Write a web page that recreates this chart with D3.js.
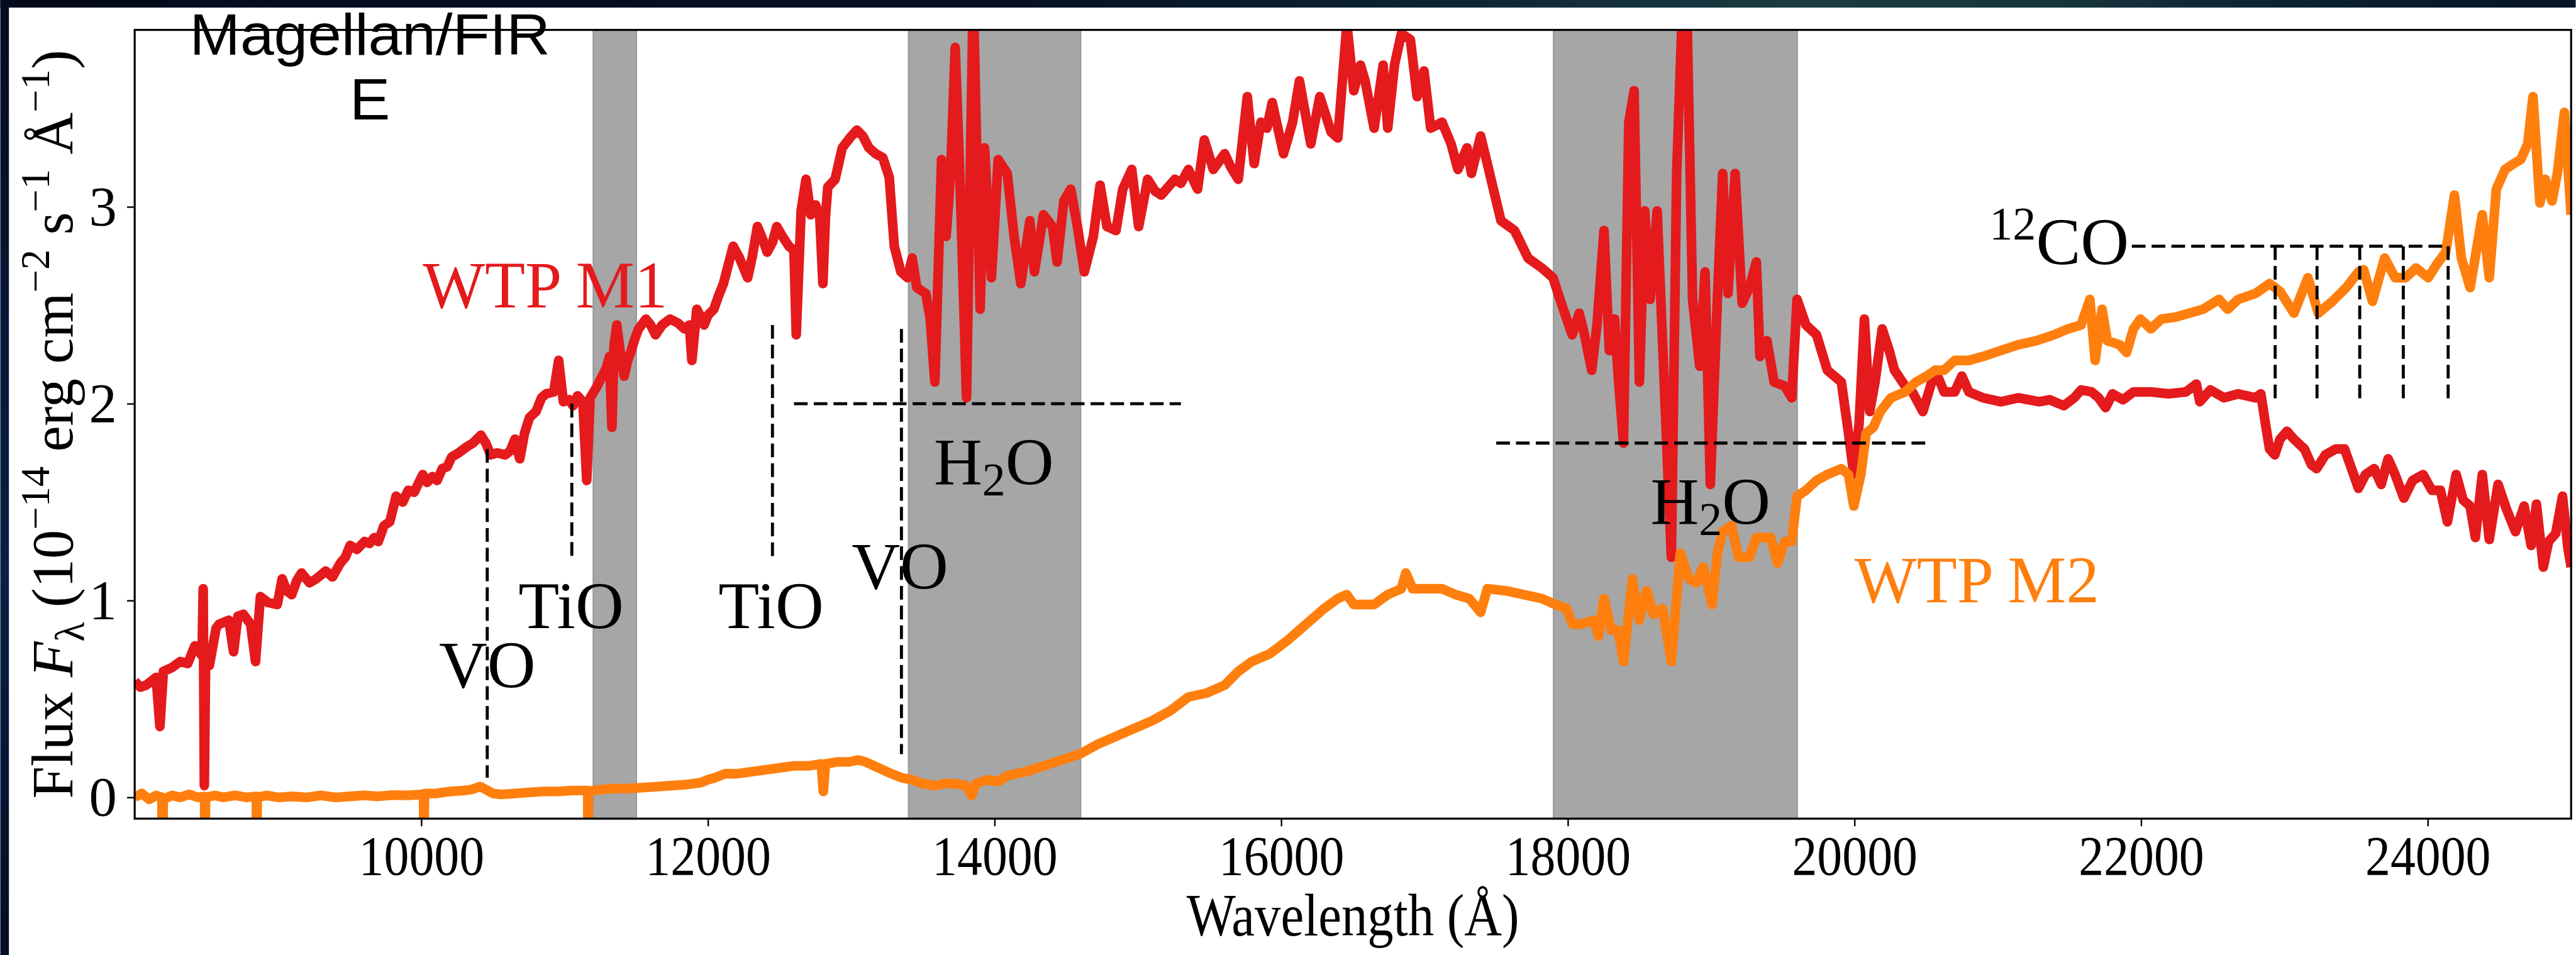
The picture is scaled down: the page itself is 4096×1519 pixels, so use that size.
<!DOCTYPE html>
<html><head><meta charset="utf-8">
<script src="https://cdn.jsdelivr.net/npm/d3@7"></script>
<style>html,body{margin:0;padding:0;background:#fff;overflow:hidden}</style>
</head><body>
<svg id="chart" width="4096" height="1519" viewBox="0 0 5079 1884"></svg>
<script>
// ---------------- data ----------------
const xTicks = [10000,12000,14000,16000,18000,20000,22000,24000];
const yTicks = [0,1,2,3];
const xDomain = [8000, 25000];
const yDomain = [-0.108, 3.899];
const bands = [[11200,11500],[13400,14600],[17900,19600]];

// WTP M1 (red) : [wavelength (Å), flux]
const m1 = [
[8000,0.59],[8040,0.56],[8080,0.57],[8150,0.61],[8176,0.36],[8200,0.64],[8260,0.66],[8318,0.69],[8370,0.68],[8420,0.77],
[8470,0.72],[8478,1.06],[8486,0.06],[8495,0.70],[8521,0.67],[8568,0.86],[8589,0.88],[8657,0.90],[8690,0.74],[8720,0.92],
[8758,0.93],[8809,0.88],[8843,0.69],[8877,1.02],[8930,0.99],[8995,0.98],[9029,1.11],[9060,1.05],[9096,1.03],[9130,1.10],
[9164,1.14],[9220,1.09],[9266,1.11],[9300,1.13],[9333,1.15],[9380,1.12],[9435,1.19],[9470,1.22],[9503,1.28],[9550,1.26],
[9604,1.30],[9640,1.29],[9672,1.32],[9700,1.30],[9739,1.38],[9780,1.40],[9824,1.53],[9870,1.50],[9909,1.56],[9950,1.55],
[10010,1.64],[10040,1.60],[10078,1.63],[10110,1.61],[10146,1.67],[10180,1.68],[10213,1.73],[10260,1.75],[10315,1.78],[10360,1.80],
[10416,1.84],[10450,1.80],[10484,1.74],[10530,1.75],[10585,1.74],[10620,1.76],[10653,1.82],[10687,1.72],[10720,1.85],[10755,1.93],
[10800,1.96],[10839,2.03],[10870,2.05],[10924,2.06],[10958,2.22],[10991,2.01],[11030,2.02],[11059,1.99],[11090,2.04],[11127,2.01],
[11154,1.61],[11178,2.03],[11220,2.08],[11262,2.14],[11290,2.18],[11313,2.24],[11330,1.88],[11345,2.30],[11364,2.40],[11390,2.25],
[11415,2.14],[11440,2.22],[11465,2.27],[11490,2.33],[11516,2.38],[11567,2.43],[11600,2.40],[11634,2.35],[11680,2.40],[11736,2.43],
[11790,2.41],[11837,2.38],[11870,2.40],[11888,2.22],[11922,2.48],[11950,2.44],[11973,2.40],[12000,2.45],[12041,2.48],[12075,2.55],
[12108,2.61],[12140,2.70],[12176,2.80],[12220,2.74],[12277,2.64],[12310,2.75],[12345,2.90],[12380,2.84],[12413,2.77],[12450,2.82],
[12480,2.90],[12520,2.85],[12565,2.80],[12600,2.78],[12616,2.35],[12640,2.80],[12650,2.98],[12684,3.14],[12717,2.96],[12751,3.01],
[12780,2.95],[12802,2.61],[12820,2.95],[12836,3.10],[12887,3.14],[12937,3.30],[12990,3.35],[13039,3.39],[13080,3.36],[13123,3.30],
[13170,3.27],[13220,3.25],[13265,3.15],[13300,2.80],[13346,2.67],[13393,2.64],[13425,2.74],[13457,2.59],[13520,2.56],[13551,2.43],
[13583,2.11],[13630,3.24],[13662,2.85],[13693,3.17],[13725,3.81],[13757,3.17],[13804,2.03],[13851,4.10],[13899,2.48],[13930,3.30],
[13978,2.64],[14025,3.24],[14088,3.17],[14136,2.85],[14183,2.61],[14246,2.93],[14278,2.67],[14341,2.96],[14404,2.90],[14436,2.72],
[14483,3.03],[14531,3.09],[14578,2.90],[14626,2.67],[14689,2.85],[14736,3.11],[14784,2.90],[14847,2.88],[14894,3.09],[14957,3.19],
[15005,2.90],[15068,3.14],[15120,3.08],[15163,3.06],[15210,3.10],[15258,3.14],[15300,3.12],[15352,3.19],[15416,3.09],[15463,3.34],
[15526,3.19],[15605,3.27],[15650,3.20],[15700,3.14],[15763,3.56],[15811,3.22],[15858,3.43],[15900,3.40],[15937,3.53],[16016,3.27],
[16079,3.43],[16127,3.64],[16206,3.32],[16269,3.56],[16348,3.38],[16395,3.35],[16458,3.93],[16506,3.59],[16553,3.72],[16585,3.64],
[16648,3.40],[16711,3.72],[16743,3.40],[16790,3.72],[16838,3.88],[16901,3.85],[16948,3.56],[16996,3.69],[17043,3.40],[17122,3.43],
[17185,3.32],[17233,3.19],[17296,3.30],[17327,3.17],[17391,3.36],[17454,3.17],[17533,2.93],[17628,2.88],[17722,2.74],[17817,2.69],
[17896,2.64],[17959,2.50],[18030,2.35],[18079,2.46],[18116,2.35],[18166,2.17],[18203,2.40],[18252,2.88],[18289,2.27],[18326,2.43],
[18351,2.14],[18388,1.80],[18425,3.43],[18462,3.59],[18499,2.11],[18536,2.98],[18574,2.53],[18623,2.98],[18672,2.11],[18722,1.22],
[18759,3.17],[18796,3.95],[18833,3.92],[18870,2.53],[18920,2.19],[18957,2.67],[18994,1.59],[19043,2.53],[19080,3.17],[19117,2.56],
[19167,3.17],[19216,2.51],[19266,2.59],[19315,2.72],[19340,2.24],[19389,2.32],[19439,2.11],[19513,2.09],[19562,2.03],[19599,2.53],
[19661,2.40],[19735,2.35],[19810,2.17],[19908,2.11],[19958,1.85],[19995,1.64],[20032,1.90],[20069,2.43],[20106,1.96],[20143,2.11],
[20193,2.38],[20242,2.27],[20279,2.17],[20353,2.09],[20403,2.06],[20477,1.96],[20563,2.17],[20625,2.06],[20699,2.06],[20749,2.14],
[20798,2.06],[20897,2.03],[21021,2.01],[21144,2.03],[21216,2.02],[21289,2.01],[21362,2.02],[21460,1.99],[21533,2.03],[21581,2.07],
[21654,2.06],[21703,2.03],[21752,1.98],[21800,2.05],[21873,2.02],[21946,2.06],[22068,2.06],[22190,2.05],[22312,2.06],[22385,2.10],
[22409,2.01],[22482,2.07],[22579,2.03],[22677,2.05],[22798,2.03],[22835,2.05],[22871,1.88],[22896,1.77],[22932,1.74],[22969,1.82],
[23017,1.86],[23066,1.82],[23139,1.77],[23188,1.69],[23224,1.67],[23285,1.74],[23358,1.77],[23419,1.77],[23468,1.67],[23516,1.57],
[23565,1.64],[23626,1.67],[23675,1.59],[23723,1.72],[23772,1.64],[23833,1.52],[23894,1.61],[23967,1.64],[24028,1.56],[24088,1.56],
[24137,1.40],[24198,1.64],[24247,1.51],[24295,1.48],[24332,1.32],[24380,1.64],[24429,1.31],[24490,1.59],[24551,1.46],[24612,1.35],
[24672,1.48],[24721,1.28],[24758,1.49],[24806,1.17],[24843,1.30],[24892,1.34],[24940,1.53],[24977,1.27],[25000,1.17]
];

// WTP M2 (orange) : [wavelength (Å), flux]
const m2 = [
[8000,0.00],[8050,0.02],[8100,-0.01],[8150,0.01],[8190,0.00],[8193,-0.3],[8200,-0.01],[8260,0.01],[8320,0.00],[8380,0.015],
[8440,0.00],[8488,0.005],[8490,-0.3],[8495,0.00],[8560,0.01],[8620,0.0],[8700,0.01],[8780,0.00],[8849,0.005],[8851,-0.3],
[8855,0.00],[8920,0.01],[9000,0.0],[9100,0.005],[9200,0.0],[9300,0.01],[9400,0.0],[9500,0.005],[9600,0.01],[9700,0.005],
[9800,0.012],[9900,0.01],[10000,0.015],[10016,0.015],[10018,-0.3],[10022,0.02],[10100,0.02],[10200,0.03],[10300,0.035],[10350,0.04],
[10410,0.055],[10450,0.04],[10500,0.02],[10560,0.015],[10650,0.02],[10750,0.025],[10850,0.03],[10950,0.03],[11050,0.035],[11161,0.035],
[11163,-0.3],[11166,0.03],[11250,0.04],[11350,0.045],[11450,0.045],[11550,0.05],[11650,0.055],[11750,0.06],[11850,0.065],[11950,0.075],
[12000,0.09],[12050,0.10],[12120,0.12],[12200,0.12],[12300,0.13],[12400,0.14],[12500,0.15],[12600,0.16],[12700,0.16],[12790,0.17],
[12805,0.03],[12820,0.17],[12900,0.18],[12980,0.18],[13050,0.19],[13100,0.18],[13160,0.16],[13220,0.14],[13280,0.12],[13350,0.10],
[13420,0.09],[13500,0.07],[13580,0.06],[13650,0.07],[13720,0.07],[13800,0.06],[13840,0.01],[13870,0.07],[13950,0.09],[14025,0.08],
[14088,0.11],[14215,0.13],[14341,0.16],[14468,0.19],[14594,0.22],[14720,0.27],[14847,0.31],[14973,0.35],[15100,0.39],[15226,0.44],
[15352,0.51],[15479,0.53],[15605,0.57],[15700,0.64],[15795,0.69],[15921,0.73],[16048,0.80],[16174,0.88],[16300,0.96],[16395,1.01],
[16458,1.03],[16506,0.98],[16553,0.98],[16648,0.98],[16743,1.03],[16838,1.06],[16869,1.14],[16917,1.06],[17027,1.06],[17122,1.06],
[17217,1.03],[17312,1.01],[17391,0.94],[17438,1.06],[17564,1.05],[17691,1.03],[17817,1.01],[17912,0.98],[17991,0.96],[18030,0.88],
[18091,0.88],[18178,0.90],[18215,0.82],[18252,1.01],[18302,0.85],[18351,0.85],[18388,0.69],[18450,1.11],[18499,0.90],[18549,1.05],
[18598,0.93],[18660,0.96],[18722,0.69],[18784,1.24],[18845,1.11],[18895,1.09],[18944,1.17],[19006,0.98],[19043,1.24],[19080,1.35],
[19142,1.38],[19191,1.22],[19266,1.22],[19315,1.32],[19414,1.32],[19463,1.19],[19513,1.30],[19562,1.30],[19599,1.53],[19661,1.56],
[19735,1.61],[19810,1.64],[19908,1.67],[19958,1.64],[19995,1.48],[20044,1.64],[20081,1.85],[20131,1.88],[20180,1.96],[20254,2.03],
[20353,2.06],[20428,2.11],[20502,2.14],[20563,2.17],[20625,2.17],[20699,2.22],[20798,2.22],[20897,2.24],[21021,2.27],[21144,2.30],
[21268,2.32],[21392,2.35],[21490,2.38],[21581,2.40],[21642,2.53],[21679,2.22],[21727,2.48],[21764,2.32],[21849,2.30],[21898,2.26],
[21946,2.38],[21995,2.43],[22068,2.38],[22141,2.43],[22239,2.44],[22336,2.46],[22433,2.48],[22543,2.53],[22604,2.48],[22677,2.53],
[22798,2.56],[22896,2.61],[22969,2.57],[23066,2.46],[23163,2.64],[23236,2.46],[23334,2.52],[23431,2.59],[23516,2.67],[23553,2.68],
[23614,2.52],[23699,2.74],[23772,2.64],[23845,2.64],[23918,2.69],[24003,2.64],[24064,2.71],[24125,2.77],[24186,3.06],[24234,2.74],
[24295,2.59],[24344,2.80],[24380,2.96],[24429,2.64],[24478,3.09],[24539,3.19],[24600,3.22],[24648,3.24],[24697,3.32],[24734,3.56],
[24782,3.02],[24819,3.14],[24867,3.03],[24904,3.17],[24953,3.48],[25000,2.96]
];

// annotation lines: vertical [wave, y0, y1], horizontal [wave0, wave1, y]
const vLines = [[10460,0.10,1.77],[11050,1.20,2.00],[12450,1.20,2.40],[13350,0.22,2.38],
                [22935,2.0,2.8],[23227,2.0,2.8],[23525,2.0,2.8],[23829,2.0,2.8],[24142,2.0,2.8]];
const hLines = [[12600,15300,2.0],[17500,20500,1.8],[21935,24142,2.8]];
const molLabels = [{t:"VO",x:10460,y:0.56},{t:"TiO",x:11045,y:0.86},{t:"TiO",x:12440,y:0.86},{t:"VO",x:13340,y:1.06}];
const h2oLabels = [[13995,1.59],[18995,1.39]];
const coLabel = [21915,2.71];
const seriesLabels = [{t:"WTP M1",x:10010,y:2.49,c:"#e41a1c"},{t:"WTP M2",x:20000,y:0.99,c:"#ff7f0e"}];

// ---------------- drawing ----------------
const svg = d3.select("#chart");
const W = 5079, H = 1884;
const L = 265, R = 5070, T = 59, B = 1615;
const x = d3.scaleLinear().domain(xDomain).range([L, R]);
const y = d3.scaleLinear().domain(yDomain).range([B, T]);
const serif = "'Liberation Serif','Times New Roman',serif";

const defs = svg.append("defs");
const gTop = defs.append("linearGradient").attr("id","gTop").attr("x1","0").attr("x2","1").attr("y1","0").attr("y2","0");
[["0%","#040a1a"],["40%","#061126"],["55%","#0b2432"],["70%","#1a3b42"],["80%","#16343c"],["90%","#0a2232"],["100%","#061428"]]
  .forEach(s=>gTop.append("stop").attr("offset",s[0]).attr("stop-color",s[1]));
const gLeft = defs.append("linearGradient").attr("id","gLeft").attr("x1","0").attr("x2","0").attr("y1","0").attr("y2","1");
[["0%","#040c20"],["40%","#08193a"],["60%","#0a2046"],["100%","#030d24"]]
  .forEach(s=>gLeft.append("stop").attr("offset",s[0]).attr("stop-color",s[1]));
defs.append("clipPath").attr("id","clip").append("rect")
  .attr("x",L).attr("y",T).attr("width",R-L).attr("height",B-T);

svg.append("rect").attr("width",W).attr("height",H).attr("fill","#fff");

// shaded telluric bands
svg.append("g").selectAll("rect").data(bands).join("rect")
  .attr("x",d=>x(d[0])).attr("width",d=>x(d[1])-x(d[0]))
  .attr("y",T).attr("height",B-T)
  .attr("fill","#a6a6a6").attr("stroke","#9c9c9c").attr("stroke-width",3);

// spectra
const line = d3.line().x(d=>x(d[0])).y(d=>y(d[1]));
const gLines = svg.append("g").attr("clip-path","url(#clip)");
gLines.append("path").datum(m1).attr("d",line).attr("fill","none")
  .attr("stroke","#e41a1c").attr("stroke-width",19).attr("stroke-linejoin","round");
gLines.append("path").datum(m2).attr("d",line).attr("fill","none")
  .attr("stroke","#ff7f0e").attr("stroke-width",19).attr("stroke-linejoin","round");

// dashed annotation lines
const gAnn = svg.append("g").attr("stroke","#000").attr("stroke-width",6).attr("stroke-dasharray","27,12").attr("fill","none");
gAnn.selectAll("line.v").data(vLines).join("line").attr("class","v")
  .attr("x1",d=>x(d[0])).attr("x2",d=>x(d[0])).attr("y1",d=>y(d[2])).attr("y2",d=>y(d[1]));
gAnn.selectAll("line.h").data(hLines).join("line").attr("class","h")
  .attr("x1",d=>x(d[0])).attr("x2",d=>x(d[1])).attr("y1",d=>y(d[2])).attr("y2",d=>y(d[2]));

// molecule labels
svg.append("g").selectAll("text").data(molLabels).join("text")
  .attr("x",d=>x(d.x)).attr("y",d=>y(d.y)).attr("text-anchor","middle")
  .attr("font-family",serif).attr("font-size",132).attr("fill","#000").text(d=>d.t);
h2oLabels.forEach(d=>{
  const t = svg.append("text").attr("x",x(d[0])).attr("y",y(d[1])).attr("text-anchor","middle")
    .attr("font-family",serif).attr("font-size",132).attr("fill","#000");
  t.append("tspan").text("H");
  t.append("tspan").attr("font-size",92).attr("dy",22).text("2");
  t.append("tspan").attr("dy",-22).text("O");
});
{
  const t = svg.append("text").attr("x",x(coLabel[0])).attr("y",y(coLabel[1])).attr("text-anchor","end")
    .attr("font-family",serif).attr("font-size",132).attr("fill","#000");
  t.append("tspan").attr("font-size",92).attr("dy",-48).text("12");
  t.append("tspan").attr("dy",48).text("CO");
}
svg.append("g").selectAll("text").data(seriesLabels).join("text")
  .attr("x",d=>x(d.x)).attr("y",d=>y(d.y)).attr("fill",d=>d.c)
  .attr("font-family",serif).attr("font-size",130).text(d=>d.t);

// axes
const xAxis = svg.append("g").attr("transform",`translate(0,${B})`)
  .call(d3.axisBottom(x).tickValues(xTicks).tickSize(15).tickPadding(17).tickFormat(d3.format("d")));
const yAxis = svg.append("g").attr("transform",`translate(${L},0)`)
  .call(d3.axisLeft(y).tickValues(yTicks).tickSize(15).tickPadding(20).tickFormat(d3.format("d")));
[xAxis,yAxis].forEach(a=>{
  a.select(".domain").remove();
  a.selectAll(".tick line").attr("stroke","#000").attr("stroke-width",3);
  a.selectAll(".tick text").attr("font-family",serif).attr("font-size",110).attr("fill","#000");
});
xAxis.selectAll(".tick text").attr("transform","scale(0.9,1)");

// frame
svg.append("rect").attr("x",L).attr("y",T).attr("width",R-L).attr("height",B-T)
  .attr("fill","none").attr("stroke","#000").attr("stroke-width",4);

// axis labels
svg.append("text").attr("transform",`translate(${(L+R)/2},1846) scale(0.87,1)`)
  .attr("text-anchor","middle").attr("font-family",serif).attr("font-size",118).attr("fill","#000")
  .text("Wavelength (Å)");
{
  const t = svg.append("text").attr("transform",`translate(142,${(T+B)/2}) rotate(-90)`)
    .attr("text-anchor","middle").attr("font-family",serif).attr("font-size",115).attr("fill","#000");
  t.append("tspan").text("Flux ");
  t.append("tspan").attr("font-style","italic").text("F");
  t.append("tspan").attr("font-size",80).attr("dy",22).text("λ");
  t.append("tspan").attr("dy",-22).text(" (10");
  t.append("tspan").attr("font-size",80).attr("dy",-46).text("−14");
  t.append("tspan").attr("dy",46).text(" erg cm");
  t.append("tspan").attr("font-size",80).attr("dy",-46).text("−2");
  t.append("tspan").attr("dy",46).text(" s");
  t.append("tspan").attr("font-size",80).attr("dy",-46).text("−1");
  t.append("tspan").attr("dy",46).text(" Å");
  t.append("tspan").attr("font-size",80).attr("dy",-46).text("−1");
  t.append("tspan").attr("dy",46).text(")");
}

// slide background edges
svg.append("rect").attr("x",0).attr("y",0).attr("width",W).attr("height",15).attr("fill","url(#gTop)");
svg.append("rect").attr("x",0).attr("y",0).attr("width",17).attr("height",H).attr("fill","url(#gLeft)");

// slide title overlay
{
  const t = svg.append("text").attr("text-anchor","middle").attr("transform","translate(729,0) scale(1.04,1)")
    .attr("font-family","'Liberation Sans',Arial,sans-serif").attr("font-size",115).attr("fill","#000");
  t.append("tspan").attr("x",0).attr("y",108).text("Magellan/FIR");
  t.append("tspan").attr("x",0).attr("y",236).text("E");
}
</script></body></html>
